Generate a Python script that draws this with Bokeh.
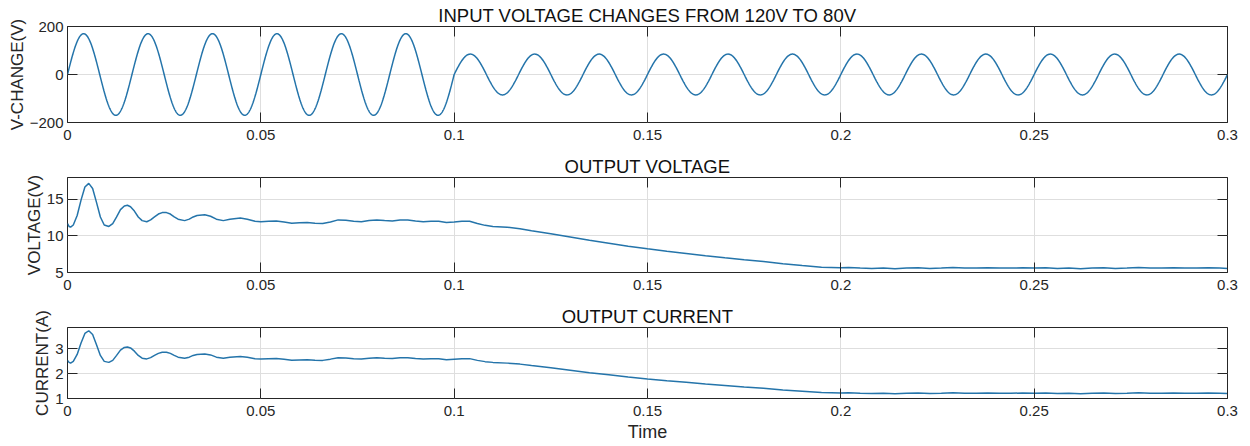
import numpy as np
from bokeh.plotting import figure
from bokeh.layouts import column
from bokeh.models import Range1d, FixedTicker, LinearAxis
from bokeh.embed import file_html
from bokeh.resources import INLINE

# ---------------- data ----------------
time_ticks = [0, 0.05, 0.1, 0.15, 0.2, 0.25, 0.3]
time_tick_labels = ["0", "0.05", "0.1", "0.15", "0.2", "0.25", "0.3"]
vin_ticks = [-200, 0, 200]
vout_ticks = [5, 10, 15]
iout_ticks = [1, 2, 3]

# input sinusoid (mains frequency, peak amplitude before / after the step)
in_freq_hz = 60
in_step_time = 0.1
in_peak_before = 170
in_peak_after = 85

out_time = [
    0.0, 0.0004, 0.0008, 0.0015, 0.0025, 0.0035, 0.0045, 0.0055, 0.0065, 0.0075,
    0.0085, 0.0095, 0.0107, 0.0117, 0.0127, 0.0137, 0.0147, 0.0155, 0.0163, 0.0173,
    0.0183, 0.0193, 0.0205, 0.0215, 0.0225, 0.0235, 0.0245, 0.0256, 0.0266, 0.0276,
    0.0286, 0.0303, 0.0315, 0.0325, 0.0335, 0.0355, 0.0370, 0.0385, 0.0403, 0.0420,
    0.0447, 0.0465, 0.0485, 0.050, 0.052, 0.054, 0.056, 0.058, 0.060, 0.062,
    0.064, 0.066, 0.068, 0.070, 0.072, 0.074, 0.076, 0.078, 0.080, 0.082,
    0.084, 0.086, 0.088, 0.090, 0.092, 0.094, 0.096, 0.098, 0.100, 0.102,
    0.104, 0.106, 0.108, 0.110, 0.1137, 0.117, 0.120, 0.125, 0.130, 0.135,
    0.140, 0.145, 0.150, 0.155, 0.160, 0.165, 0.170, 0.175, 0.180, 0.185,
    0.190, 0.195, 0.200, 0.202, 0.205, 0.208, 0.211, 0.214, 0.217, 0.220,
    0.223, 0.226, 0.229, 0.232, 0.235, 0.238, 0.241, 0.244, 0.247, 0.250,
    0.253, 0.256, 0.259, 0.262, 0.265, 0.268, 0.271, 0.274, 0.277, 0.280,
    0.283, 0.286, 0.289, 0.292, 0.295, 0.298, 0.300,
]
out_voltage = [
    11.7, 11.3, 11.2, 11.5, 12.8, 14.9, 16.7, 17.2, 16.5, 14.6,
    12.6, 11.5, 11.3, 11.7, 12.6, 13.6, 14.1, 14.2, 14.0, 13.4,
    12.6, 12.1, 11.95, 12.2, 12.6, 13.0, 13.2, 13.2, 13.0, 12.6,
    12.3, 12.1, 12.3, 12.6, 12.8, 12.9, 12.7, 12.3, 12.1, 12.3,
    12.45, 12.3, 12.0, 11.95, 12.0, 12.05, 11.9, 11.75, 11.8, 11.85,
    11.75, 11.7, 11.9, 12.2, 12.15, 12.0, 11.95, 12.1, 12.2, 12.1,
    12.05, 12.2, 12.2, 12.05, 11.95, 12.0, 12.0, 11.85, 11.9, 12.0,
    12.0, 11.7, 11.45, 11.3, 11.2, 11.0, 10.7, 10.3, 9.85, 9.4,
    9.0, 8.6, 8.24, 7.9, 7.6, 7.3, 7.02, 6.75, 6.5, 6.2,
    5.95, 5.72, 5.65, 5.7, 5.6, 5.55, 5.6, 5.5, 5.6, 5.65,
    5.55, 5.6, 5.7, 5.6, 5.6, 5.65, 5.6, 5.6, 5.65, 5.6,
    5.65, 5.55, 5.6, 5.5, 5.6, 5.65, 5.55, 5.6, 5.7, 5.6,
    5.6, 5.65, 5.6, 5.6, 5.65, 5.6, 5.55,
]
out_current = [
    2.53, 2.45, 2.42, 2.49, 2.77, 3.23, 3.61, 3.72, 3.57, 3.16,
    2.73, 2.49, 2.45, 2.53, 2.73, 2.94, 3.05, 3.07, 3.03, 2.90,
    2.73, 2.62, 2.59, 2.64, 2.73, 2.81, 2.86, 2.86, 2.81, 2.73,
    2.66, 2.62, 2.66, 2.73, 2.77, 2.79, 2.75, 2.66, 2.62, 2.66,
    2.69, 2.66, 2.60, 2.59, 2.60, 2.61, 2.58, 2.54, 2.55, 2.56,
    2.54, 2.53, 2.58, 2.64, 2.63, 2.60, 2.59, 2.62, 2.64, 2.62,
    2.61, 2.64, 2.64, 2.61, 2.59, 2.60, 2.60, 2.56, 2.58, 2.60,
    2.60, 2.53, 2.48, 2.45, 2.42, 2.38, 2.32, 2.23, 2.13, 2.03,
    1.95, 1.86, 1.78, 1.71, 1.65, 1.58, 1.52, 1.46, 1.41, 1.34,
    1.29, 1.24, 1.22, 1.23, 1.21, 1.20, 1.21, 1.19, 1.21, 1.22,
    1.20, 1.21, 1.23, 1.21, 1.21, 1.22, 1.21, 1.21, 1.22, 1.21,
    1.22, 1.20, 1.21, 1.19, 1.21, 1.22, 1.20, 1.21, 1.23, 1.21,
    1.21, 1.22, 1.21, 1.21, 1.22, 1.21, 1.20,
]

# ---------------- styling ----------------
FONT = "Liberation Sans"
LINE = "#2474aa"
AX = "#262626"
GRID = "#dedede"

in_time = np.linspace(0, 0.3, 3001)
in_amp = np.where(in_time < in_step_time, in_peak_before, in_peak_after)
in_voltage = in_amp * np.sin(2 * np.pi * in_freq_hz * in_time)


def make_fig(height, top, bottom, yr, yticks, ylabel, title, xlabel=None):
    p = figure(width=1248, height=height, output_backend="svg", toolbar_location=None,
               x_range=Range1d(0, 0.3), y_range=Range1d(*yr),
               min_border_left=67, min_border_right=21,
               min_border_top=top, min_border_bottom=bottom)
    p.title.text = title
    p.title.align = "center"
    p.title.text_font = FONT
    p.title.text_font_size = "18.5px"
    p.title.text_font_style = "normal"
    p.title.text_color = "#111111"
    p.title.standoff = 1
    p.title.offset = 0

    p.outline_line_color = AX
    p.outline_line_width = 1
    p.outline_line_alpha = 1
    p.background_fill_color = "white"
    p.border_fill_color = "white"

    xt = FixedTicker(ticks=time_ticks)
    yt = FixedTicker(ticks=yticks)

    xa = p.xaxis[0]
    xa.ticker = xt
    xa.major_label_overrides = {float(k): v for k, v in zip(time_ticks, time_tick_labels)}
    ya = p.yaxis[0]
    ya.ticker = yt
    for a in (xa, ya):
        a.axis_line_color = None
        a.major_tick_in = 10
        a.major_tick_out = 0
        a.major_tick_line_color = AX
        a.minor_tick_line_color = None
        a.major_label_text_font = FONT
        a.major_label_text_font_size = "15px"
        a.major_label_text_color = AX
        a.major_label_standoff = 4
        a.axis_label_text_font = FONT
        a.axis_label_text_font_style = "normal"
        a.axis_label_text_font_size = "17px"
        a.axis_label_text_color = AX
        a.axis_label_standoff = 0
    xa.major_label_standoff = 7
    ya.axis_label = ylabel
    if xlabel:
        xa.axis_label = xlabel
        xa.axis_label_standoff = 3
        xa.axis_label_text_font_size = "18px"

    for side, tk in (("right", yt), ("above", xt)):
        ax = LinearAxis(ticker=tk, major_label_text_font_size="1px",
                        major_label_text_color=None,
                        major_tick_in=10, major_tick_out=0, major_label_standoff=0,
                        axis_line_color=None, minor_tick_line_color=None,
                        major_tick_line_color=AX)
        p.add_layout(ax, side)

    p.xgrid.ticker = xt
    p.ygrid.ticker = yt
    p.xgrid.grid_line_color = GRID
    p.ygrid.grid_line_color = GRID
    return p


p1 = make_fig(147, 26, 25, (-200, 200), vin_ticks, "V-CHANGE(V)",
              "INPUT VOLTAGE CHANGES FROM 120V TO 80V")
p1.line(in_time, in_voltage, line_color=LINE, line_width=1.5)

p2 = make_fig(151, 30, 26, (5, 18), vout_ticks, "VOLTAGE(V)", "OUTPUT VOLTAGE")
p2.line(out_time, out_voltage, line_color=LINE, line_width=1.5)

p3 = make_fig(147, 29, 47, (1, 3.85), iout_ticks, "CURRENT(A)", "OUTPUT CURRENT", xlabel="Time")
p3.line(out_time, out_current, line_color=LINE, line_width=1.5)

layout = column(p1, p2, p3, spacing=0)

open("out.html", "w").write(file_html(layout, INLINE))
